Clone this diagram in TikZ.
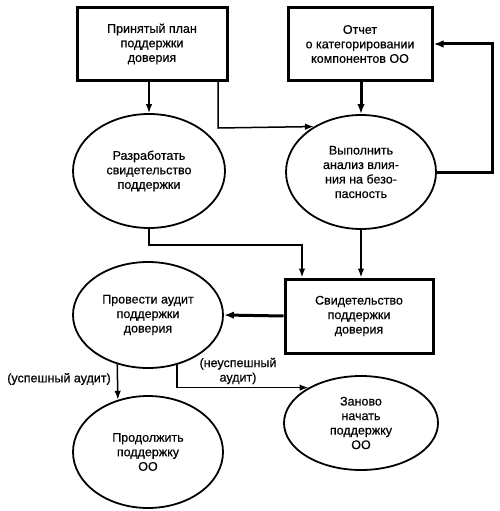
\documentclass[tikz,border=0pt]{standalone}
\usepackage{fontspec}
\setmainfont{Liberation Sans}[FakeBold=0.4]
\usetikzlibrary{arrows.meta,shapes.geometric}

\begin{document}
\begin{tikzpicture}[x=1pt,y=-1pt,font=\fontsize{12.5}{14.5}\selectfont,
  box/.style={draw,line width=3pt,align=center,inner sep=0pt},
  oval/.style={draw,ellipse,line width=1.8pt,align=center,inner sep=0pt},
  thinarr/.style={line width=1.5pt,-{Latex[length=9pt,width=6.5pt]}},
  boldarr/.style={line width=3pt,-{Latex[length=10pt,width=7.5pt]}}]
  \useasboundingbox (0,0) rectangle (500,511);
  % boxes
  \node[box,minimum width=150pt,minimum height=72pt] (plan) at (152,44) {Принятый план\\поддержки\\доверия};
  \node[box,minimum width=144pt,minimum height=72pt] (rep) at (360,44) {Отчет\\о категорировании\\компонентов ОО};
  \node[box,minimum width=148pt,minimum height=74pt] (evid) at (359,316) {Свидетельство\\поддержки\\доверия};
  % ellipses
  \node[oval,minimum width=152pt,minimum height=114pt] (dev) at (149,171) {Разработать\\свидетельство\\поддержки};
  \node[oval,minimum width=150pt,minimum height=114pt] (anl) at (361,172) {Выполнить\\анализ влия-\\ния на безо-\\пасность};
  \node[oval,minimum width=150pt,minimum height=106pt] (aud) at (148,315) {Провести аудит\\поддержки\\доверия};
  \node[oval,minimum width=150pt,minimum height=112pt] (cont) at (148,452) {Продолжить\\поддержку\\ОО};
  \node[oval,minimum width=154pt,minimum height=94pt] (rest) at (361,423) {Заново\\начать\\поддержку\\ОО};
  % labels
  \node (ok) at (59,379) {(успешный аудит)};
  \node[align=center] (fail) at (238,371) {(неуспешный\\аудит)};
  % connectors
  \coordinate (loop) at (492,44);
  \coordinate (cjog) at (302,245);
  \coordinate (pjog) at (218,128);
  \draw[thinarr] (dev.north |- plan.south) -- (dev.north);
  \draw[thinarr] (pjog |- plan.south) -- (pjog) -- (anl.136);
  \draw[boldarr] (anl.north |- rep.south) -- (anl.north);
  \draw[boldarr] (anl.east) -| (loop) -- (rep.east);
  \draw[thinarr] (dev.south) |- (cjog) -- (cjog |- evid.north);
  \draw[thinarr] (anl.south) -- (anl.south |- evid.north);
  \draw[boldarr] (evid.west) -- (aud.east);
  \draw[thinarr] (aud.-122) -- (cont.120);
  \draw[thinarr] (aud.-60) |- (rest.146);
\end{tikzpicture}
\end{document}
